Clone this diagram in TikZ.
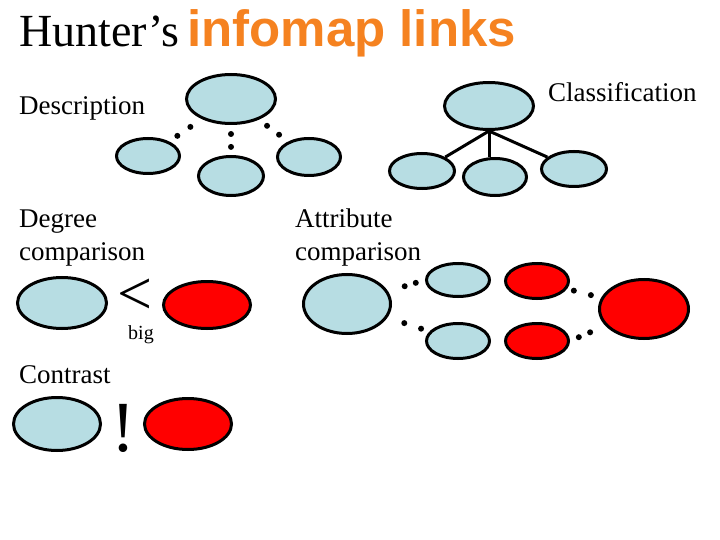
\documentclass[tikz,border=0pt]{standalone}
\usepackage{fontspec}
\setmainfont{Liberation Serif}
\newfontfamily\titlesans{Liberation Sans}
\usepackage{xcolor}
\usetikzlibrary{shapes.geometric}

\definecolor{mapblue}{RGB}{183,221,227}
\definecolor{maporange}{RGB}{245,130,32}
\definecolor{mapred}{RGB}{255,0,0}

\begin{document}
\begin{tikzpicture}[
    x=1pt, y=-1pt,
    every node/.style={inner sep=0pt},
    lbl/.style     ={anchor=base west,align=left,
                     font=\fontsize{27}{33}\selectfont},
    blob/.style    ={ellipse,draw=black,line width=3pt,fill=mapblue},
    redblob/.style ={blob,fill=mapred},
    dot/.style     ={circle,fill=black,minimum size=6pt},
    link/.style    ={line width=3pt},
  ]
  \useasboundingbox (0,0) rectangle (720,540);

  % Title
  \node[anchor=base west,font=\fontsize{46}{50}\selectfont]
        (hunter) at (19,47) {Hunter’s};
  \node[anchor=base west,text=maporange,
        font=\titlesans\bfseries\fontsize{51}{56}\selectfont]
        (infomap) at (187,47) {infomap links};

  % Description
  \node[lbl] (desc) at (19,115) {Description};
  \node[blob,minimum width=89pt,minimum height=49pt] (dtop)   at (231,99)  {};
  \node[blob,minimum width=63pt,minimum height=35pt] (dleft)  at (148,156) {};
  \node[blob,minimum width=65pt,minimum height=39pt] (dmid)   at (231,176) {};
  \node[blob,minimum width=63pt,minimum height=37pt] (dright) at (309,157) {};
  \path (dtop) -- node[dot,pos=0.35]{} node[dot,pos=0.75]{} (dleft);
  \path (dtop) -- node[dot,pos=0.30]{} node[dot,pos=0.73]{} (dmid);
  \path (dtop) -- node[dot,pos=0.28]{} node[dot,pos=0.69]{} (dright);

  % Classification
  \node[lbl] (classif) at (548,102) {Classification};
  \node[blob,minimum width=89pt,minimum height=47pt] (ctop)   at (489,106) {};
  \node[blob,minimum width=65pt,minimum height=35pt] (cleft)  at (422,171) {};
  \node[blob,minimum width=63pt,minimum height=37pt] (cmid)   at (495,177) {};
  \node[blob,minimum width=65pt,minimum height=35pt] (cright) at (574,169) {};
  \draw[link] (ctop.south) -- (cleft);
  \draw[link] (ctop.south) -- (ctop.south |- cmid.north);
  \draw[link] (ctop.south) -- (cright);

  % Degree comparison
  \node[lbl] (degree) at (19,260) {Degree\\comparison};
  \node[blob,minimum width=89pt,minimum height=51pt]    (gless) at (62,303)  {};
  \node[redblob,minimum width=87pt,minimum height=47pt] (gmore) at (207,305) {};
  \node[font=\fontsize{62}{62}\selectfont] (lessthan) at (135,297) {<};
  \node[anchor=base west,font=\fontsize{20}{24}\selectfont] (bigword) at (128,339) {big};

  % Attribute comparison
  \node[lbl] (attrib) at (295,260) {Attribute\\comparison};
  \node[blob,minimum width=87pt,minimum height=59pt]    (abig)  at (347,304) {};
  \node[blob,minimum width=63pt,minimum height=33pt]    (atopb) at (458,280) {};
  \node[blob,minimum width=63pt,minimum height=35pt]    (abotb) at (458,341) {};
  \node[redblob,minimum width=63pt,minimum height=35pt] (atopr) at (537,281) {};
  \node[redblob,minimum width=63pt,minimum height=35pt] (abotr) at (537,341) {};
  \node[redblob,minimum width=89pt,minimum height=59pt] (abigr) at (644,309) {};
  \path (abig) -- node[dot,pos=0.45]{} node[dot,pos=0.75]{} (atopb.west);
  \path (abig) -- node[dot,pos=0.40]{} node[dot,pos=0.80]{} (abotb);
  \path (atopr) -- node[dot,pos=0.20]{} node[dot,pos=0.70]{} (abigr);
  \path (abotr.east) -- node[dot,pos=0.25]{} node[dot,pos=0.57]{} (abigr);

  % Contrast
  \node[lbl] (contrast) at (19,383) {Contrast};
  \node[blob,minimum width=87pt,minimum height=53pt]    (tleft)  at (57,424)  {};
  \node[redblob,minimum width=87pt,minimum height=51pt] (tright) at (188,424) {};
  \node[font=\fontsize{72}{72}\selectfont] (bang) at (123,428) {!};
\end{tikzpicture}
\end{document}
